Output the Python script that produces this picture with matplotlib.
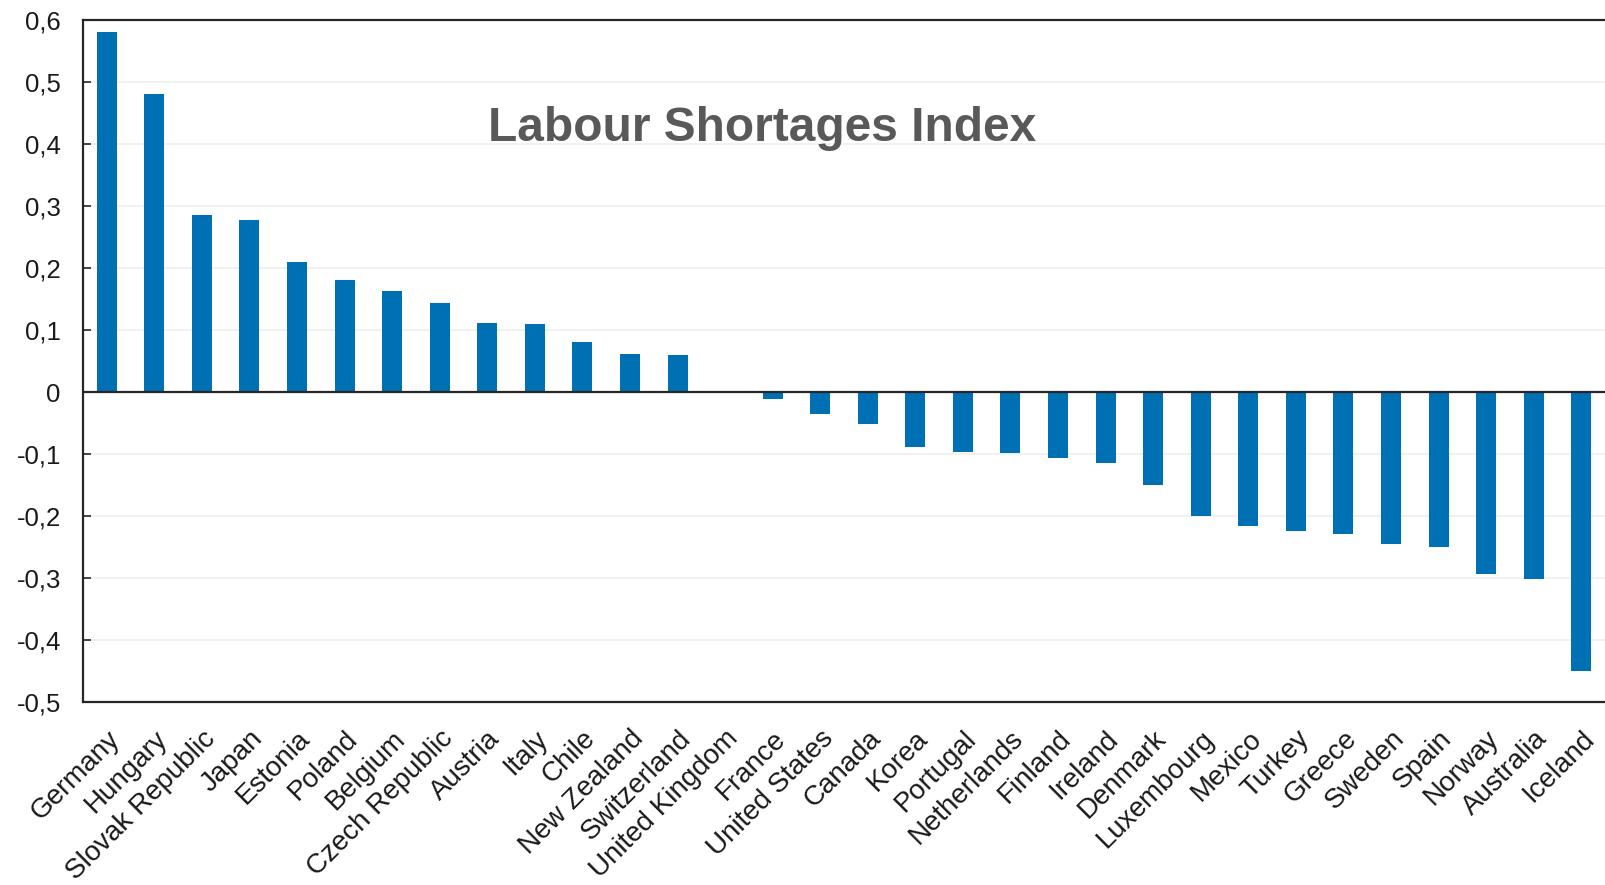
import matplotlib
matplotlib.use("Agg")
import matplotlib.pyplot as plt
from matplotlib.ticker import FixedLocator, FuncFormatter

countries = ["Germany", "Hungary", "Slovak Republic", "Japan", "Estonia", "Poland",
             "Belgium", "Czech Republic", "Austria", "Italy", "Chile", "New Zealand",
             "Switzerland", "United Kingdom", "France", "United States", "Canada",
             "Korea", "Portugal", "Netherlands", "Finland", "Ireland", "Denmark",
             "Luxembourg", "Mexico", "Turkey", "Greece", "Sweden", "Spain", "Norway",
             "Australia", "Iceland"]
values = [0.581, 0.481, 0.285, 0.277, 0.209, 0.180, 0.163, 0.144, 0.112, 0.109,
          0.080, 0.062, 0.060, 0.0, -0.011, -0.036, -0.051, -0.088, -0.097, -0.099,
          -0.106, -0.115, -0.150, -0.200, -0.216, -0.224, -0.229, -0.245, -0.250,
          -0.293, -0.301, -0.450]
yticks = [-0.5, -0.4, -0.3, -0.2, -0.1, 0, 0.1, 0.2, 0.3, 0.4, 0.5, 0.6]
title = "Labour Shortages Index"

plt.rcParams['font.family'] = ['Liberation Sans', 'DejaVu Sans']

W, H = 1605, 885
fig = plt.figure(figsize=(W / 100, H / 100), dpi=100)
ax = fig.add_axes([83 / W, 1 - 702 / H, 1 - 83 / W, (702 - 20) / H])

x = list(range(len(countries)))
ax.bar(x, values, width=0.42, color="#0070B4", zorder=3)

ax.set_xlim(-0.5, len(countries) - 0.5)
ax.set_ylim(-0.5, 0.6)

ax.yaxis.set_major_locator(FixedLocator(yticks))

def fmt(v, pos):
    if abs(v) < 1e-9:
        return "0"
    return f"{v:.1f}".replace(".", ",")

ax.yaxis.set_major_formatter(FuncFormatter(fmt))
ax.tick_params(axis='y', direction='in', length=5.5, width=1.2, color="#262626",
               labelsize=18.5, labelcolor="#1a1a1a", pad=16)
ax.grid(axis='y', color="#efefef", linewidth=1.2, zorder=0)

ax.set_xticks(x)
ax.set_xticklabels(countries, rotation=45, ha='right', va='top',
                   rotation_mode='anchor', fontsize=20, color="#1a1a1a")
ax.tick_params(axis='x', length=0, pad=17)

for s in ['left', 'top', 'bottom']:
    ax.spines[s].set_color("#262626")
    ax.spines[s].set_linewidth(1.6)
ax.spines['right'].set_visible(False)

ax.axhline(0, color="#262626", linewidth=1.6, zorder=4)

fig.text(762 / W, 1 - 141 / H, title, ha='center', va='baseline',
         fontsize=34.5, fontweight='bold', color="#595959")

fig.savefig("out.png", dpi=100)
